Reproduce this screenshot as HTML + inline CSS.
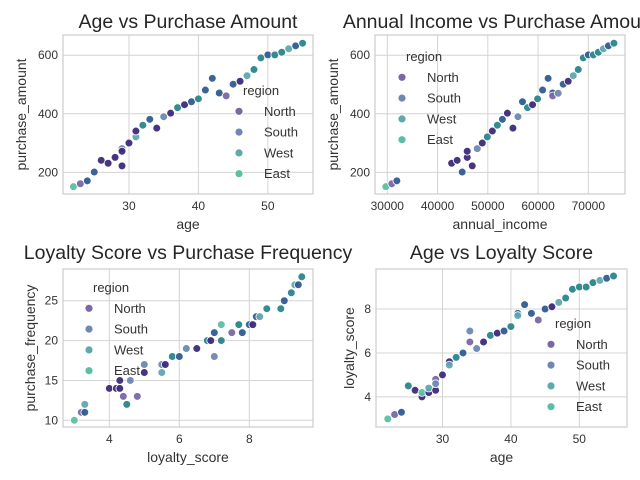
<!DOCTYPE html>
<html><head><meta charset="utf-8">
<style>
html,body{margin:0;padding:0;background:#fff;overflow:hidden}
svg{display:block;font-family:"Liberation Sans",Arial,sans-serif}
</style></head>
<body>
<svg id="fig" width="640" height="480" viewBox="0 0 640 480" xmlns="http://www.w3.org/2000/svg"></svg>
<script>
// ---- Plot 1: Age vs Purchase Amount ----
const p1Age = [22,23,24,25,26,27,28,29,29,29,30,31,31,32,33,34,35,36,37,38,39,40,41,42,43,44,45,46,47,48,49,50,51,52,53,54,55];
const p1Amount = [151,161,171,201,241,231,251,281,272,222,300,321,341,361,381,351,390,402,421,431,441,451,481,521,471,461,501,511,530,551,591,601,601,610,622,632,641];
const p1Hue = ['e','lp','b','b','d','d','d','ls','d','d','d','lt','d','t','b','d','ls','d','t','d','b','t','b','b','b','lp','b','d','lt','t','t','b','t','t','lt','b','t'];
// ---- Plot 2: Annual Income vs Purchase Amount ----
const p2Income = [29700,30900,31900,42800,43900,45900,45900,46900,44900,47900,48900,49900,50900,51900,52900,55000,56000,53900,57900,58900,56900,59900,60900,62000,62900,62900,64000,65000,66000,67000,68000,69000,70000,71000,72000,73000,74000,75100];
const p2Amount = [151,161,171,231,241,251,272,222,201,281,300,321,341,361,381,351,390,402,421,431,441,451,481,521,471,461,470,501,511,530,551,591,601,601,610,622,632,641];
const p2Hue = ['e','lp','b','d','d','d','d','d','b','ls','d','t','d','t','b','d','ls','d','t','d','b','t','b','b','b','lp','ls','b','d','lt','t','t','b','t','t','lt','b','t'];
// ---- Plot 3: Loyalty Score vs Purchase Frequency ----
const p3Loyalty = [3.0,3.2,3.3,3.3,4.0,4.2,4.3,4.3,4.4,4.5,4.6,4.8,5.0,5.0,5.5,5.5,5.6,5.8,6.0,6.2,6.5,7.0,6.8,6.9,7.2,7.0,7.2,7.5,7.7,7.8,8.0,8.1,8.2,8.3,8.5,8.9,9.0,9.2,9.3,9.4,9.5];
const p3Frequency = [10,11,12,11,14,14,14,15,13,12,15,13,17,16,16,17,17,18,18,19,19,18,20,20,20,21,22,21,22,21,22,22,23,23,24,24,25,26,27,27,28];
const p3Hue = ['e','lp','lt','b','d','d','d','d','lp','t','ls','lp','ls','d','lt','ls','d','t','b','ls','d','ls','t','d','t','b','e','lp','t','b','b','d','b','lt','t','t','b','t','lt','b','t'];
// ---- Plot 4: Age vs Loyalty Score ----
const p4Age = [22,23,24,25,26,27,27,28,28,29,29,29,30,31,31,32,33,34,34,35,36,37,38,39,40,41,41,42,43,44,45,46,47,48,49,50,51,52,53,54,55];
const p4Loyalty = [3.0,3.2,3.3,4.5,4.3,4.0,4.2,4.2,4.4,4.3,4.8,4.6,5.0,5.6,5.45,5.8,6.0,6.5,7.0,6.2,6.5,6.8,6.9,7.0,7.2,7.8,7.7,8.2,7.8,7.5,8.0,8.1,8.3,8.5,8.9,9.0,9.0,9.2,9.3,9.4,9.5];
const p4Hue = ['e','lp','b','t','d','d','e','d','lt','d','lp','ls','d','d','lt','t','b','lp','ls','ls','d','t','d','b','t','b','lt','b','b','lp','b','d','lt','t','t','t','t','t','lt','b','t'];
// ---- tick labels ----
const p1XTicks = [30,40,50];
const p1YTicks = [200,400,600];
const p2XTicks = [30000,40000,50000,60000,70000];
const p2YTicks = [200,400,600];
const p3XTicks = [4,6,8];
const p3YTicks = [10,15,20,25];
const p4XTicks = [30,40,50];
const p4YTicks = [4,6,8];
const regions = ['North','South','West','East'];

const HUE = {d:'#3d2a7a',b:'#2f5c92',t:'#29868c',lp:'#7a67a6',ls:'#6d88b2',lt:'#60a7ae',e:'#5abfa5'};
const LEG = {North:'#7a67a6',South:'#6d88b2',West:'#60a7ae',East:'#5abfa5'};
const NS='http://www.w3.org/2000/svg';
const svg=document.getElementById('fig');
function mk(tag,attrs,parent){const e=document.createElementNS(NS,tag);for(const k in attrs)e.setAttribute(k,attrs[k]);(parent||svg).appendChild(e);return e;}

function panel(cfg){
  const g=mk('g',{});
  
  
  const b=cfg.box;
  const sx=v=>b.x0+(v-cfg.xd[0])/(cfg.xd[1]-cfg.xd[0])*(b.x1-b.x0);
  const sy=v=>b.y1-(v-cfg.yd[0])/(cfg.yd[1]-cfg.yd[0])*(b.y1-b.y0);
  const bg=mk('rect',{x:b.x0,y:b.y0,width:b.x1-b.x0,height:b.y1-b.y0,fill:'#fff'},g);
  
  
  cfg.xt.forEach(t=>{
    const x=sx(t);
    const l=mk('line',{x1:x,x2:x,y1:b.y0,y2:b.y1,stroke:'#d4d4d4','stroke-width':1},g);
    
    
    const tx=mk('text',{x:x,y:b.y1+16,'text-anchor':'middle','font-size':12,fill:'#333'},g);
    
    
    tx.textContent=t;
  });
  cfg.yt.forEach(t=>{
    const y=sy(t);
    const l=mk('line',{x1:b.x0,x2:b.x1,y1:y,y2:y,stroke:'#d4d4d4','stroke-width':1},g);
    
    
    const tx=mk('text',{x:b.x0-5,y:y+4,'text-anchor':'end','font-size':12,fill:'#333'},g);
    
    
    tx.textContent=t;
  });
  const fr=mk('rect',{x:b.x0,y:b.y0,width:b.x1-b.x0,height:b.y1-b.y0,fill:'none',stroke:'#cccccc','stroke-width':1.2},g);
  
  
  for(let i=0;i<cfg.xs.length;i++){
    const c=mk('circle',{cx:sx(cfg.xs[i]),cy:sy(cfg.ys[i]),r:3.9,fill:HUE[cfg.hue[i]],'fill-opacity':0.95,stroke:'#fff','stroke-width':0.8},g);
    
    
  }
  const ti=mk('text',{x:(b.x0+b.x1)/2,y:cfg.titleY,'text-anchor':'middle','font-size':19.5,fill:'#262626'},g);
  
  
  ti.textContent=cfg.title;
  const xl=mk('text',{x:(b.x0+b.x1)/2,y:b.y1+35,'text-anchor':'middle','font-size':14,fill:'#333'},g);
  
  
  xl.textContent=cfg.xlabel;
  const yc=(b.y0+b.y1)/2;
  const yl=mk('text',{x:cfg.ylx,y:yc,'text-anchor':'middle','font-size':14,fill:'#333',transform:`rotate(-90 ${cfg.ylx} ${yc})`},g);
  
  
  yl.textContent=cfg.ylabel;
  const lg=mk('g',{},g);
  
  
  const L=cfg.leg;
  const lt=mk('text',{x:L.x+4,y:L.y,'font-size':13,fill:'#333'},lg);
  
  
  lt.textContent='region';
  regions.forEach((r,i)=>{
    const y=L.y+20.8*(i+1);
    const m=mk('circle',{cx:L.x,cy:y-4.5,r:4,fill:LEG[r],stroke:'#fff','stroke-width':0.8},lg);
    
    
    const t=mk('text',{x:L.x+25,y:y,'font-size':13,fill:'#333'},lg);
    
    
    t.textContent=r;
  });
}

panel({name:'age-vs-purchase-amount',box:{x0:63,x1:313,y0:35,y1:194},xd:[20.5,56.5],yd:[126,669],
  xs:p1Age,ys:p1Amount,hue:p1Hue,xt:p1XTicks,yt:p1YTicks,title:'Age vs Purchase Amount',titleY:28,
  xlabel:'age',ylabel:'purchase_amount',ylx:26,leg:{x:239,y:95}});
panel({name:'income-vs-purchase-amount',box:{x0:375,x1:625,y0:35,y1:194},xd:[27550,77300],yd:[126,669],
  xs:p2Income,ys:p2Amount,hue:p2Hue,xt:p2XTicks,yt:p2YTicks,title:'Annual Income vs Purchase Amount',titleY:28,
  xlabel:'annual_income',ylabel:'purchase_amount',ylx:338,leg:{x:402,y:61}});
panel({name:'loyalty-vs-frequency',box:{x0:63,x1:313,y0:269,y1:427},xd:[2.677,9.82],yd:[9.16,28.98],
  xs:p3Loyalty,ys:p3Frequency,hue:p3Hue,xt:p3XTicks,yt:p3YTicks,title:'Loyalty Score vs Purchase Frequency',titleY:259,
  xlabel:'loyalty_score',ylabel:'purchase_frequency',ylx:35,leg:{x:89,y:292}});
panel({name:'age-vs-loyalty-score',box:{x0:376,x1:627,y0:269,y1:427},xd:[20.28,56.97],yd:[2.63,9.82],
  xs:p4Age,ys:p4Loyalty,hue:p4Hue,xt:p4XTicks,yt:p4YTicks,title:'Age vs Loyalty Score',titleY:259,
  xlabel:'age',ylabel:'loyalty_score',ylx:354,leg:{x:551,y:328}});
</script>
</body></html>
